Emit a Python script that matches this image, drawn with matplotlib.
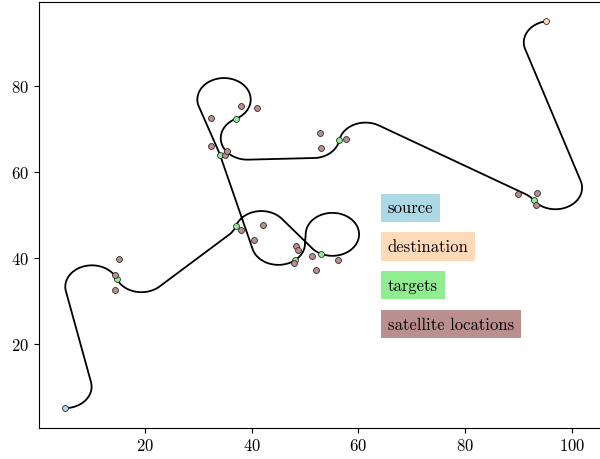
import numpy as np
import matplotlib
matplotlib.use("Agg")
import matplotlib.pyplot as plt

plt.rcParams['font.family'] = 'serif'
plt.rcParams['font.serif'] = ['cmr10']
plt.rcParams['font.size'] = 12
plt.rcParams['mathtext.fontset'] = 'cm'
plt.rcParams['axes.formatter.use_mathtext'] = True

# 最小转弯半径
TURN_RADIUS = 5.0

# 起点 / 终点 (x, y, 航向角 deg)
source = (5.0, 5.0, 0.0)
destination = (95.1, 95.0, 10.0)

# 目标点，按访问顺序排列
target_x = [14.7, 37.05, 53.0, 48.2, 34.05, 37.0, 56.4, 92.8]
target_y = [35.1, 47.4, 40.9, 39.5, 64.0, 72.3, 67.3, 53.4]
target_heading = [-68, 72, -25, -140, 107, -154, 80, -55]

# 卫星位置
sat_x = [15.1, 14.3, 14.3, 38.0, 42.2, 40.5, 48.3, 48.7, 48.0, 51.2, 56.2, 52.0,
         37.9, 41.0, 32.4, 32.3, 34.9, 35.4, 52.8, 52.9, 57.7, 89.9, 93.4, 93.2]
sat_y = [39.6, 36.0, 32.6, 46.4, 47.5, 44.1, 42.7, 41.9, 38.8, 40.5, 39.5, 37.1,
         75.4, 74.8, 72.6, 65.9, 63.9, 64.9, 69.1, 65.6, 67.6, 54.8, 55.0, 52.2]

legend_labels = ["source", "destination", "targets", "satellite locations"]
legend_colors = ["lightblue", "peachpuff", "lightgreen", "rosybrown"]
legend_y = [51.6, 42.6, 33.65, 24.6]


def circle_center(x, y, h, s, r):
    """s=1 左转, s=-1 右转"""
    return np.array([x - s * r * np.sin(h), y + s * r * np.cos(h)])


def csc_path(p0, p1, r, s1, s2):
    """CSC 型 Dubins 路径 (LSL, RSR, LSR, RSL)"""
    x0, y0, h0 = p0
    x1, y1, h1 = p1
    c1 = circle_center(x0, y0, h0, s1, r)
    c2 = circle_center(x1, y1, h1, s2, r)
    d = c2 - c1
    dist = np.hypot(d[0], d[1])
    phi = np.arctan2(d[1], d[0])
    k = (s1 - s2) * r / dist
    if abs(k) > 1:
        return None
    theta = phi + np.arcsin(k)
    length = dist * np.cos(theta - phi)
    a1 = (s1 * (theta - h0)) % (2 * np.pi)
    a2 = (s2 * (h1 - theta)) % (2 * np.pi)
    return r * (a1 + a2) + length, [(s1, a1), (0, length), (s2, a2)]


def shortest_dubins(p0, p1, r):
    best = None
    for s1, s2 in [(1, 1), (-1, -1), (1, -1), (-1, 1)]:
        res = csc_path(p0, p1, r, s1, s2)
        if res is not None and (best is None or res[0] < best[0]):
            best = res
    return best[1]


def sample_segments(pose, segments, r, step=0.1):
    x, y, h = pose
    xs, ys = [], []
    for s, amount in segments:
        if s == 0:
            n = max(int(amount / step), 1)
            t = np.linspace(0, amount, n + 1)[1:]
            px = x + t * np.cos(h)
            py = y + t * np.sin(h)
        else:
            c = circle_center(x, y, h, s, r)
            n = max(int(r * amount / step), 1)
            hs = h + s * np.linspace(0, amount, n + 1)[1:]
            px = c[0] + s * r * np.sin(hs)
            py = c[1] - s * r * np.cos(hs)
            h = h + s * amount
        if len(px):
            x, y = px[-1], py[-1]
        xs.extend(px)
        ys.extend(py)
    return xs, ys


poses = [(source[0], source[1], np.radians(source[2]))]
poses += [(x, y, np.radians(h)) for x, y, h in zip(target_x, target_y, target_heading)]
poses += [(destination[0], destination[1], np.radians(destination[2]))]

path_x, path_y = [poses[0][0]], [poses[0][1]]
for a, b in zip(poses[:-1], poses[1:]):
    segs = shortest_dubins(a, b, TURN_RADIUS)
    xs, ys = sample_segments(a, segs, TURN_RADIUS)
    path_x.extend(xs)
    path_y.extend(ys)

fig = plt.figure(figsize=(6, 4.6), dpi=100)
ax = fig.add_axes([38.5 / 600, 31.5 / 460, 569.5 / 600, 426 / 460])

ax.plot(path_x, path_y, color='black', lw=1.3, zorder=1)

mk = dict(s=18, edgecolors='#2a2a2a', linewidths=0.6, zorder=3)
ax.scatter([source[0]], [source[1]], c=legend_colors[0], **mk)
ax.scatter([destination[0]], [destination[1]], c=legend_colors[1], **mk)
ax.scatter(target_x, target_y, c=legend_colors[2], **mk)
ax.scatter(sat_x, sat_y, c=legend_colors[3], **mk)

for label, color, y in zip(legend_labels, legend_colors, legend_y):
    ax.text(65.5, y, label, fontsize=12, va='center', ha='left',
            bbox=dict(boxstyle='square,pad=0.4', facecolor=color, edgecolor='none'))

ax.set_xlim(0.05, 106.75)
ax.set_ylim(0.5, 99.6)
ax.set_xticks([20, 40, 60, 80, 100])
ax.set_yticks([20, 40, 60, 80])

fig.savefig("out.png", dpi=100)
